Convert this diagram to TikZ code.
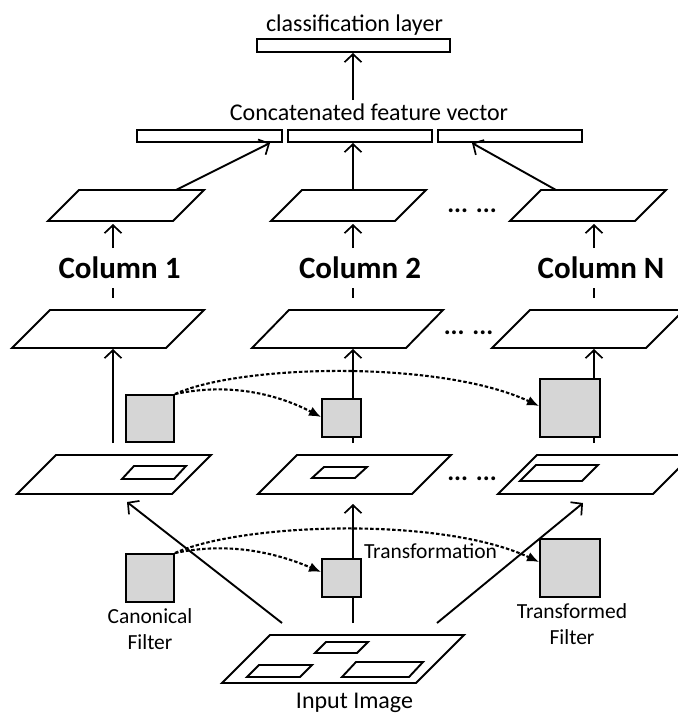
\documentclass[tikz,border=0pt]{standalone}
\usepackage{fontspec}
\setmainfont{Carlito}
\usetikzlibrary{arrows.meta}

% A feature-map plane: name, bottom-left x, bottom y, width, skew, height
\newcommand\layerplane[6]{%
  \draw[planeline] (#2,#3) coordinate (#1-bl) -- ++(#4,0) coordinate (#1-br)
    -- ++(#5,-#6) coordinate (#1-tr) -- ++(-#4,0) coordinate (#1-tl) -- cycle;}

\tikzset{
  ln/.style={line width=1.9pt},
  planeline/.style={ln, line join=miter},
  arr/.style={ln, -{Straight Barb[length=8pt,width=17pt,line width=1.7pt]}},
  dotarr/.style={line width=2.1pt, dash pattern=on 3.5pt off 2pt,
                 -{Latex[length=12pt,width=10pt]}},
  filt/.style={draw, ln, fill=black!16, inner sep=0pt},
  vecbar/.style={draw, ln, inner sep=0pt, minimum height=12pt},
  toptext/.style={inner sep=0pt, anchor=base, font=\fontsize{24}{29}\selectfont},
  lbl/.style={inner sep=0pt, anchor=base, align=center, font=\fontsize{21.5}{26}\selectfont},
  coltext/.style={inner sep=0pt, anchor=base, font=\bfseries\fontsize{31}{35}\selectfont},
  more/.style={inner sep=0pt, anchor=base, font=\bfseries\fontsize{26}{30}\selectfont},
}

\begin{document}
\begin{tikzpicture}[x=1pt, y=-1pt]
\useasboundingbox (0,0) rectangle (678,713);
\clip (0,0) rectangle (678,713);

% classification layer and concatenated feature vector
\node[toptext] (clstext) at (354.5,31) {classification layer};
\node[vecbar, minimum width=193pt, minimum height=13pt] (cls) at (353.5,45.5) {};
\node[toptext] (cattext) at (369,120) {Concatenated feature vector};
\node[vecbar, minimum width=145pt] (v1) at (209.5,136) {};
\node[vecbar, minimum width=144pt] (v2) at (360,136) {};
\node[vecbar, minimum width=144pt] (v3) at (510,136) {};

% top planes of each column
\layerplane{t1}{48}{221}{125}{31}{31}
\layerplane{t2}{271}{221}{124}{31}{31}
\layerplane{tN}{510}{221}{125}{31}{31}
\node[more] (dotsA) at (472,212) {... ...};

% column labels
\node[coltext] (col1) at (119.5,278) {Column 1};
\node[coltext] (col2) at (360,278) {Column 2};
\node[coltext] (colN) at (601,278) {Column N};

% response planes
\layerplane{m1}{12}{348}{154}{38}{38}
\layerplane{m2}{252}{348}{154}{37}{38}
\layerplane{mN}{492}{348}{154}{38}{38}
\node[more] (dotsB) at (468.5,334) {... ...};

% convolved planes with filter footprints
\layerplane{l1}{17}{494}{155}{39}{39}
\layerplane{l2}{258}{494}{154}{39}{39}
\layerplane{lN}{498}{494}{155}{39}{39}
\layerplane{r1}{122}{479}{52}{12}{13}
\layerplane{r2}{312}{478}{43}{12}{11}
\layerplane{rN}{520}{481}{62}{16}{16}
\node[more] (dotsC) at (472,480) {... ...};

% input image
\layerplane{inp}{222}{683}{194}{48}{48}
\layerplane{ia}{315}{653}{42}{11}{11}
\layerplane{ib}{247}{677}{53}{12}{12}
\layerplane{ic}{342}{677}{67}{14}{15}
\node[toptext] (inptext) at (354.5,708) {Input Image};

% connector end points
\coordinate (t1-out) at (176,190);
\coordinate (t2-out) at (353,190);
\coordinate (tN-out) at (556,190);
\coordinate (v1-in) at (270,143);
\coordinate (v2-in) at (353,143);
\coordinate (v3-in) at (472,143);
\coordinate (cat-out) at (353,100);
\coordinate (cls-in) at (353,53);
\foreach \c/\x in {1/113, 2/353, N/594}{
  \coordinate (up\c-a) at (\x,248);
  \coordinate (up\c-b) at (\x,224);
  \coordinate (gap\c-a) at (\x,288);
  \coordinate (gap\c-b) at (\x,298);
  \coordinate (mid\c-a) at (\x,443);
  \coordinate (mid\c-b) at (\x,349);
}
\coordinate (inp-1) at (282,623);
\coordinate (inp-2) at (353,623);
\coordinate (inp-N) at (437,623);
\coordinate (l1-in) at (127,502);
\coordinate (l2-in) at (353,504);
\coordinate (lN-in) at (583,503);

% solid connectors
\draw[arr] (cat-out) -- (cls-in);
\draw[arr] (t1-out) -- (v1-in);
\draw[arr] (t2-out) -- (v2-in);
\draw[arr] (tN-out) -- (v3-in);
\foreach \c in {1,2,N}{
  \draw[arr] (up\c-a) -- (up\c-b);
  \draw[ln] (gap\c-a) -- (gap\c-b);
  \draw[arr] (mid\c-a) -- (mid\c-b);
}
\draw[arr] (inp-1) -- (l1-in);
\draw[arr] (inp-2) -- (l2-in);
\draw[arr] (inp-N) -- (lN-in);

% filters
\node[filt, minimum width=48pt, minimum height=47pt] (f1a) at (150,418.5) {};
\node[filt, minimum width=39pt, minimum height=38pt] (f2a) at (341.5,418) {};
\node[filt, minimum width=60pt, minimum height=58pt] (fNa) at (570,408) {};
\node[filt, minimum width=48pt, minimum height=48pt] (f1b) at (150,578) {};
\node[filt, minimum width=39pt, minimum height=38pt] (f2b) at (341.5,578) {};
\node[filt, minimum width=60pt, minimum height=58pt] (fNb) at (570,568) {};

% two-line labels: the base anchor sits on the last line
\node[lbl] (canon) at (150,649) {Canonical\\Filter};
\node[lbl] (transf) at (572,644) {Transformed\\Filter};
\node[lbl] (trtext) at (430.5,558) {Transformation};

% filter transformations
\draw[dotarr] (f1a.north east) .. controls +(56,-12) and +(-42,-22) .. ([yshift=1pt]f2a.west);
\draw[dotarr] (f1a.north east) .. controls +(66,-30) and +(-98,-46) .. ([yshift=2pt]fNa.west);
\draw[dotarr] (f1b.north east) .. controls +(56,-12) and +(-42,-18) .. ([yshift=6pt]f2b.west);
\draw[dotarr] (f1b.north east) .. controls +(66,-30) and +(-98,-46) .. ([yshift=6pt]fNb.west);
\end{tikzpicture}
\end{document}
